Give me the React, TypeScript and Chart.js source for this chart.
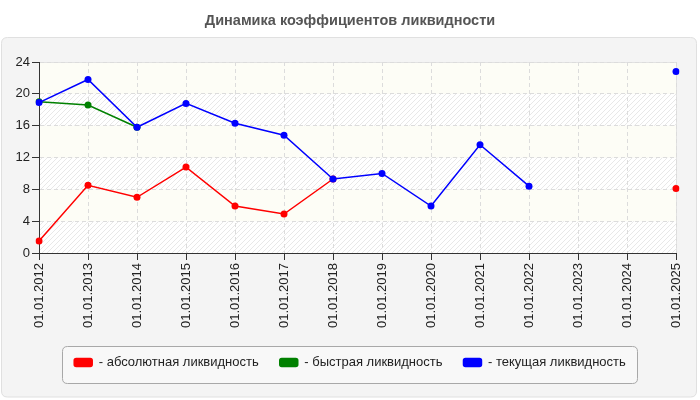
import { useEffect, useRef } from 'react'
import { Chart, registerables } from 'chart.js'

Chart.register(...registerables)

const dateLabels = [
  '01.01.2012', '01.01.2013', '01.01.2014', '01.01.2015', '01.01.2016',
  '01.01.2017', '01.01.2018', '01.01.2019', '01.01.2020', '01.01.2021',
  '01.01.2022', '01.01.2023', '01.01.2024', '01.01.2025',
]

const absoluteLiquidity = [1.5, 8.5, 7.0, 10.8, 5.9, 4.9, 9.3, null, null, null, null, null, null, 8.1]
const quickLiquidity = [19.0, 18.6, 15.8, null, null, null, null, null, null, null, null, null, null, null]
const currentLiquidity = [18.9, 21.8, 15.8, 18.8, 16.3, 14.8, 9.3, 10.0, 5.9, 13.6, 8.4, null, null, 22.8]

const titleText = 'Динамика коэффициентов ликвидности'
const seriesNames = ['- абсолютная ликвидность', '- быстрая ликвидность', '- текущая ликвидность']

const FONT = '"Liberation Sans", Arial, sans-serif'

function roundRect(ctx: CanvasRenderingContext2D, x: number, y: number, w: number, h: number, r: number) {
  ctx.beginPath()
  ctx.moveTo(x + r, y)
  ctx.lineTo(x + w - r, y)
  ctx.quadraticCurveTo(x + w, y, x + w, y + r)
  ctx.lineTo(x + w, y + h - r)
  ctx.quadraticCurveTo(x + w, y + h, x + w - r, y + h)
  ctx.lineTo(x + r, y + h)
  ctx.quadraticCurveTo(x, y + h, x, y + h - r)
  ctx.lineTo(x, y + r)
  ctx.quadraticCurveTo(x, y, x + r, y)
  ctx.closePath()
}

function makeHatch(ctx: CanvasRenderingContext2D) {
  const c = document.createElement('canvas')
  c.width = 5
  c.height = 5
  const p = c.getContext('2d')!
  p.fillStyle = '#ffffff'
  p.fillRect(0, 0, 5, 5)
  p.strokeStyle = '#e8e8e8'
  p.lineWidth = 1
  p.beginPath()
  p.moveTo(0, 5)
  p.lineTo(5, 0)
  p.moveTo(-1, 1)
  p.lineTo(1, -1)
  p.moveTo(4, 6)
  p.lineTo(6, 4)
  p.stroke()
  return ctx.createPattern(c, 'repeat')
}

const backdrop = {
  id: 'backdrop',
  beforeDraw(chart: any) {
    const { ctx, chartArea, scales, legend } = chart
    ctx.save()
    ctx.fillStyle = '#ffffff'
    ctx.fillRect(0, 0, chart.width, chart.height)

    // outer panel
    roundRect(ctx, 1.5, 37.5, 695, 359.5, 6)
    ctx.fillStyle = '#f4f4f4'
    ctx.fill()
    ctx.strokeStyle = '#e0e0e0'
    ctx.lineWidth = 1
    ctx.stroke()

    // title
    ctx.fillStyle = '#555555'
    ctx.font = `bold 14.5px ${FONT}`
    ctx.textAlign = 'center'
    ctx.textBaseline = 'middle'
    ctx.fillText(titleText, 350, 21)

    // plot bands
    const y = scales.y
    const hatch = makeHatch(ctx)
    for (let v = 0; v < 24; v += 4) {
      const top = y.getPixelForValue(v + 4)
      const bottom = y.getPixelForValue(v)
      ctx.fillStyle = (v / 4) % 2 === 0 ? hatch : '#fdfdf6'
      ctx.fillRect(chartArea.left, top, chartArea.right - chartArea.left, bottom - top)
    }
    ctx.strokeStyle = '#e2e2e2'
    ctx.strokeRect(chartArea.left + 0.5, chartArea.top + 0.5, chartArea.right - chartArea.left, chartArea.bottom - chartArea.top)

    // legend frame
    const boxes = legend.legendHitBoxes
    if (boxes && boxes.length) {
      const first = boxes[0]
      const last = boxes[boxes.length - 1]
      const cy = first.top + first.height / 2
      const lx = first.left - 12
      const rx = last.left + last.width + 11
      roundRect(ctx, Math.round(lx) + 0.5, Math.round(cy - 17) + 0.5, Math.round(rx - lx), 37, 5)
      ctx.fillStyle = '#f8f8f8'
      ctx.fill()
      ctx.strokeStyle = '#a8a8a8'
      ctx.stroke()
    }
    ctx.restore()
  },
}

export default function App() {
  const chartRef = useRef<HTMLCanvasElement>(null)

  useEffect(() => {
    if (!chartRef.current) return
    const ctx = chartRef.current.getContext('2d')
    if (!ctx) return

    const line = (label: string, data: (number | null)[], color: string, order: number) => ({
      label,
      data,
      order,
      borderColor: color,
      backgroundColor: color,
      borderWidth: 1.5,
      pointRadius: 3.5,
      pointHoverRadius: 3.5,
      pointBorderWidth: 0,
      pointBackgroundColor: color,
      tension: 0,
      spanGaps: false,
    })

    const chart = new Chart(ctx, {
      type: 'line',
      data: {
        labels: dateLabels,
        datasets: [
          line(seriesNames[0], absoluteLiquidity, '#ff0000', 2),
          line(seriesNames[1], quickLiquidity, '#008000', 1),
          line(seriesNames[2], currentLiquidity, '#0000ff', 0),
        ],
      },
      options: {
        responsive: false,
        animation: false,
        layout: { padding: { top: 62, left: 12, right: 12, bottom: 21 } },
        scales: {
          x: {
            type: 'category',
            offset: false,
            afterFit(scale: any) {
              scale.height = 82
              scale.paddingRight = 24
            },
            ticks: {
              minRotation: 90,
              maxRotation: 90,
              autoSkip: false,
              padding: 3,
              color: '#222',
              font: { family: FONT, size: 13 },
            },
            grid: {
              color: '#dcdcdc',
              tickColor: '#333',
              tickLength: 7,
              tickBorderDash: [],
            },
            border: { color: '#333', width: 1, dash: [4, 3] },
          },
          y: {
            min: 0,
            max: 24,
            afterFit(scale: any) {
              scale.width = 27
            },
            ticks: {
              stepSize: 4,
              padding: 2,
              color: '#222',
              font: { family: FONT, size: 13 },
            },
            grid: {
              color: '#dcdcdc',
              tickColor: '#333',
              tickLength: 7,
              tickBorderDash: [],
            },
            border: { color: '#333', width: 1, dash: [4, 3] },
          },
        },
        plugins: {
          title: { display: false },
          tooltip: { enabled: false },
          legend: {
            display: true,
            position: 'bottom',
            labels: {
              color: '#222',
              font: { family: FONT, size: 13 },
              boxWidth: 18,
              boxHeight: 8,
              padding: 21,
              useBorderRadius: true,
              borderRadius: 2,
              sort: (a: any, b: any) => a.datasetIndex - b.datasetIndex,
            },
          },
        },
      },
      plugins: [backdrop],
    } as any)

    return () => chart.destroy()
  }, [])

  return (
    <div style={{ position: 'absolute', left: 0, top: 0, width: 700, height: 400 }}>
      <canvas ref={chartRef} width={700} height={400} />
    </div>
  )
}
